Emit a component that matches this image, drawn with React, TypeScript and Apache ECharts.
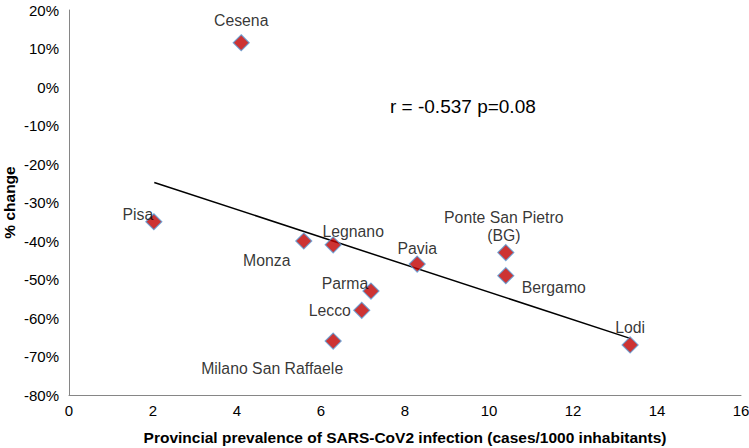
import React, { useEffect, useRef } from "react";
import * as echarts from "echarts";

const cities = [
  "Cesena",
  "Pisa",
  "Monza",
  "Legnano",
  "Parma",
  "Lecco",
  "Milano San Raffaele",
  "Pavia",
  "Ponte San Pietro\n(BG)",
  "Bergamo",
  "Lodi",
];
const prevalence = [4.1, 2.02, 5.59, 6.29, 7.19, 6.97, 6.29, 8.29, 10.4, 10.4, 13.36];
const changePct = [11.5, -35, -40, -41, -53, -58, -66, -46, -43, -49, -67];
const labelOffsets: number[][] = [
  [0, -22],
  [-16, -7],
  [-37, 19],
  [20, -13],
  [-26, -8],
  [-32, 0],
  [-61, 27],
  [0, -16],
  [-2, -26],
  [48, 12],
  [0, -17],
];
const trendX = [2.03, 13.36];
const trendY = [-24.8, -65.3];
const xTicks = { min: 0, max: 16, interval: 2 };
const yTicks = { min: -80, max: 20, interval: 10 };
const statText = "r = -0.537 p=0.08";
const xName = "Provincial prevalence of SARS-CoV2 infection (cases/1000 inhabitants)";
const yName = "% change";

const FONT = "'Liberation Sans', Arial, sans-serif";

export default function App() {
  const ref = useRef<HTMLDivElement>(null);
  useEffect(() => {
    if (!ref.current) return;
    const chart = echarts.init(ref.current, undefined, { renderer: "svg" });
    const points = cities.map((name, i) => ({
      value: [prevalence[i], changePct[i]],
      name,
      label: {
        show: true,
        position: "inside",
        offset: labelOffsets[i],
        formatter: name,
      },
    }));
    chart.setOption({
      animation: false,
      textStyle: { fontFamily: FONT },
      grid: { left: 69, right: 8, top: 10, bottom: 53, containLabel: false, outerBoundsMode: "none" },
      xAxis: {
        type: "value",
        ...xTicks,
        name: xName,
        nameLocation: "middle",
        nameGap: 34,
        nameMoveOverlap: false,
        nameTextStyle: { fontWeight: "bold", fontSize: 15.5, color: "#000", fontFamily: FONT },
        axisLine: { show: true, onZero: false, lineStyle: { color: "#868686", width: 1 } },
        axisTick: { show: false },
        splitLine: { show: false },
        axisLabel: { fontSize: 15, color: "#000", margin: 8, fontFamily: FONT },
      },
      yAxis: {
        type: "value",
        ...yTicks,
        name: yName,
        nameLocation: "middle",
        nameGap: 52,
        nameMoveOverlap: false,
        nameRotate: 90,
        nameTextStyle: { fontWeight: "bold", fontSize: 15.5, color: "#000", fontFamily: FONT },
        axisLine: { show: true, onZero: false, lineStyle: { color: "#868686", width: 1 } },
        axisTick: { show: false },
        splitLine: { show: false },
        axisLabel: { fontSize: 15, color: "#000", margin: 10, formatter: "{value}%", fontFamily: FONT },
      },
      series: [
        {
          type: "line",
          data: trendX.map((x, i) => [x, trendY[i]]),
          symbol: "none",
          lineStyle: { color: "#000", width: 1.5 },
          z: 1,
        },
        {
          type: "scatter",
          data: points,
          symbol: "diamond",
          symbolSize: 16,
          itemStyle: { color: "#C00000", borderColor: "#5B9BD5", borderWidth: 1.2 },
          label: { color: "#000", fontSize: 15.8, fontFamily: FONT, lineHeight: 18 },
          z: 2,
        },
      ],
      graphic: [
        {
          type: "text",
          left: 390,
          top: 97,
          style: { text: statText, fontSize: 19, fill: "#000", fontFamily: FONT },
        },
      ],
    });
    return () => chart.dispose();
  }, []);
  return (
    <div
      ref={ref}
      style={{ position: "fixed", left: 0, top: 0, width: 749, height: 448, background: "#fff" }}
    />
  );
}
